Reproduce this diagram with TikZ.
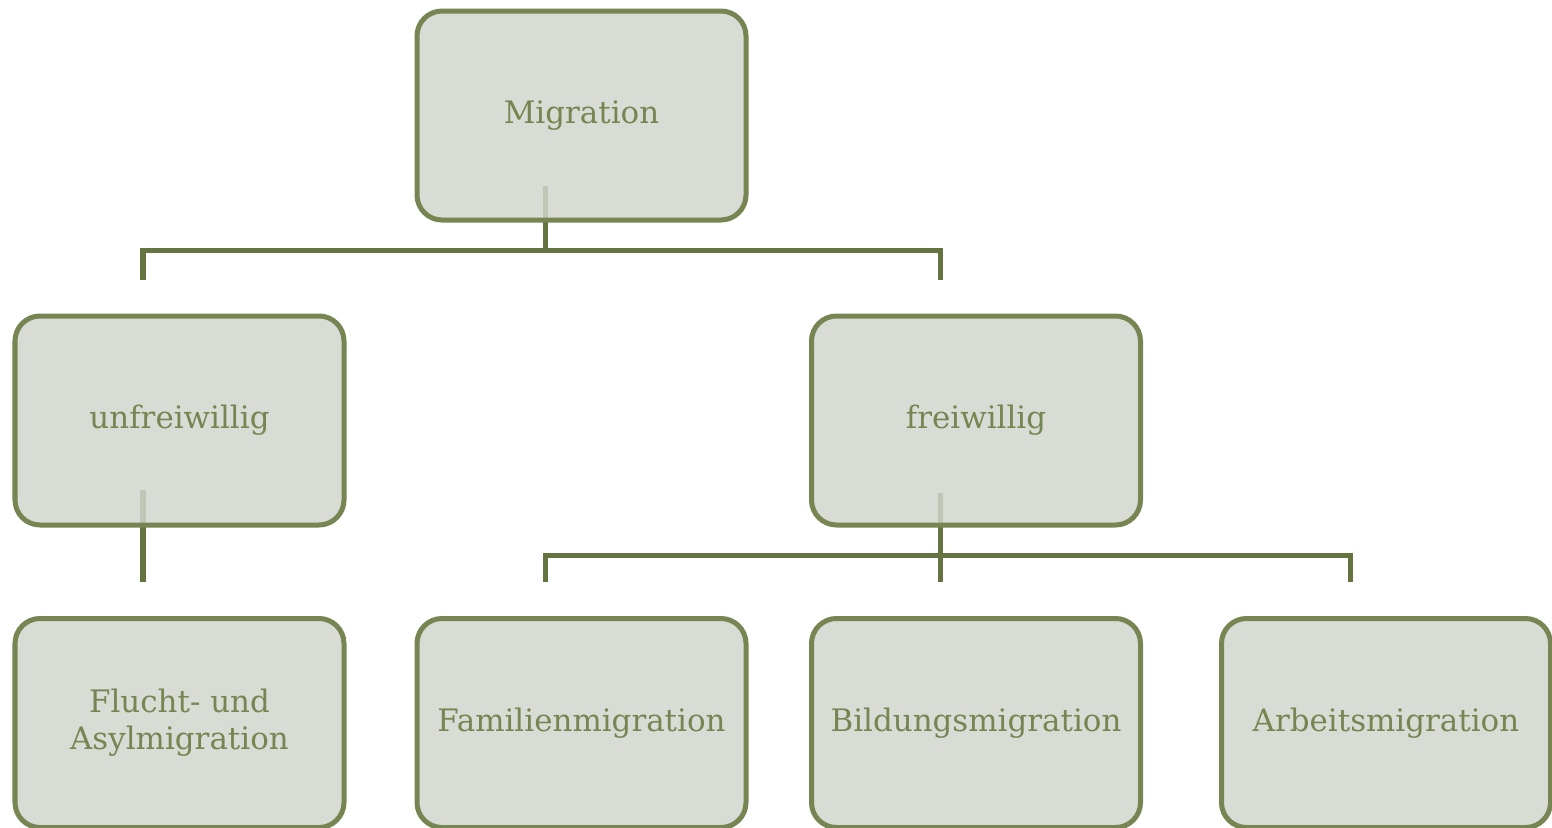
\documentclass[tikz,border=0pt]{standalone}
\usepackage{fontspec}
\setmainfont{DejaVu Serif}
\usepackage{tikz}
\usetikzlibrary{positioning}
\usetikzlibrary{calc}
\definecolor{olive_border}{RGB}{118,133,82}
\definecolor{olive_line}{RGB}{100,115,64}
\definecolor{olive_fill}{RGB}{210,214,205}
\tikzset{
  mig_box/.style = {rectangle, rounded corners=0.25cm, draw=olive_border,
    line width=0.05cm, fill=olive_fill, fill opacity=0.85, text opacity=1,
    text=olive_border, minimum width=3.29cm, minimum height=2.09cm,
    align=center, font=\fontsize{8.8}{10.6}\selectfont},% boite
  mig_line/.style = {draw=olive_line, line width=0.05cm}% trait de liaison
}

\begin{document}
\begin{tikzpicture}
\useasboundingbox (0,0) rectangle (15.52,-8.28);
% centres des boites
\coordinate (m_c) at (5.815,-1.175);
\coordinate (u_c) at (1.795,-4.225);
\coordinate (f_c) at (9.76,-4.225);
\coordinate (flu_c) at (1.795,-7.25);
\coordinate (fam_c) at (5.815,-7.25);
\coordinate (bil_c) at (9.76,-7.25);
\coordinate (arb_c) at (13.86,-7.25);

% points de depart / arrivee
\coordinate (m_out) at ($(m_c)+(-0.365,-0.685)$);
\coordinate (u_in) at ($(u_c)+(-0.365,1.425)$);
\coordinate (f_in) at ($(f_c)+(-0.36,1.425)$);
\coordinate (u_out) at ($(u_c)+(-0.365,-0.675)$);
\coordinate (f_out) at ($(f_c)+(-0.36,-0.705)$);
\coordinate (flu_in) at ($(flu_c)+(-0.365,1.43)$);
\coordinate (fam_in) at ($(fam_c)+(-0.365,1.43)$);
\coordinate (bil_in) at ($(bil_c)+(-0.36,1.43)$);
\coordinate (arb_in) at ($(arb_c)+(-0.36,1.43)$);

% liaisons (sous les boites)
\draw[mig_line] (m_out) -- ([yshift=0.3cm]m_out |- u_in);
\draw[mig_line] (u_in) -- ++(0,0.3) -| (f_in);
\draw[mig_line] (u_out) -- (flu_in);
\draw[mig_line] (f_out) -- (bil_in);
\draw[mig_line] (fam_in) -- ++(0,0.27) -| (arb_in);

% boites
\node [mig_box] (mig) at ([yshift=0.02cm]m_c) {Migration};
\node [mig_box] (unf) at ([yshift=0.02cm]u_c) {unfreiwillig};
\node [mig_box] (frei) at ([yshift=0.02cm]f_c) {freiwillig};
\node [mig_box] (flu) at ([yshift=0.02cm]flu_c) {Flucht- und\\Asylmigration};
\node [mig_box] (fam) at ([yshift=0.02cm]fam_c) {Familienmigration};
\node [mig_box] (bil) at ([yshift=0.02cm]bil_c) {Bildungsmigration};
\node [mig_box] (arb) at ([yshift=0.02cm]arb_c) {Arbeitsmigration};
\end{tikzpicture}
\end{document}
